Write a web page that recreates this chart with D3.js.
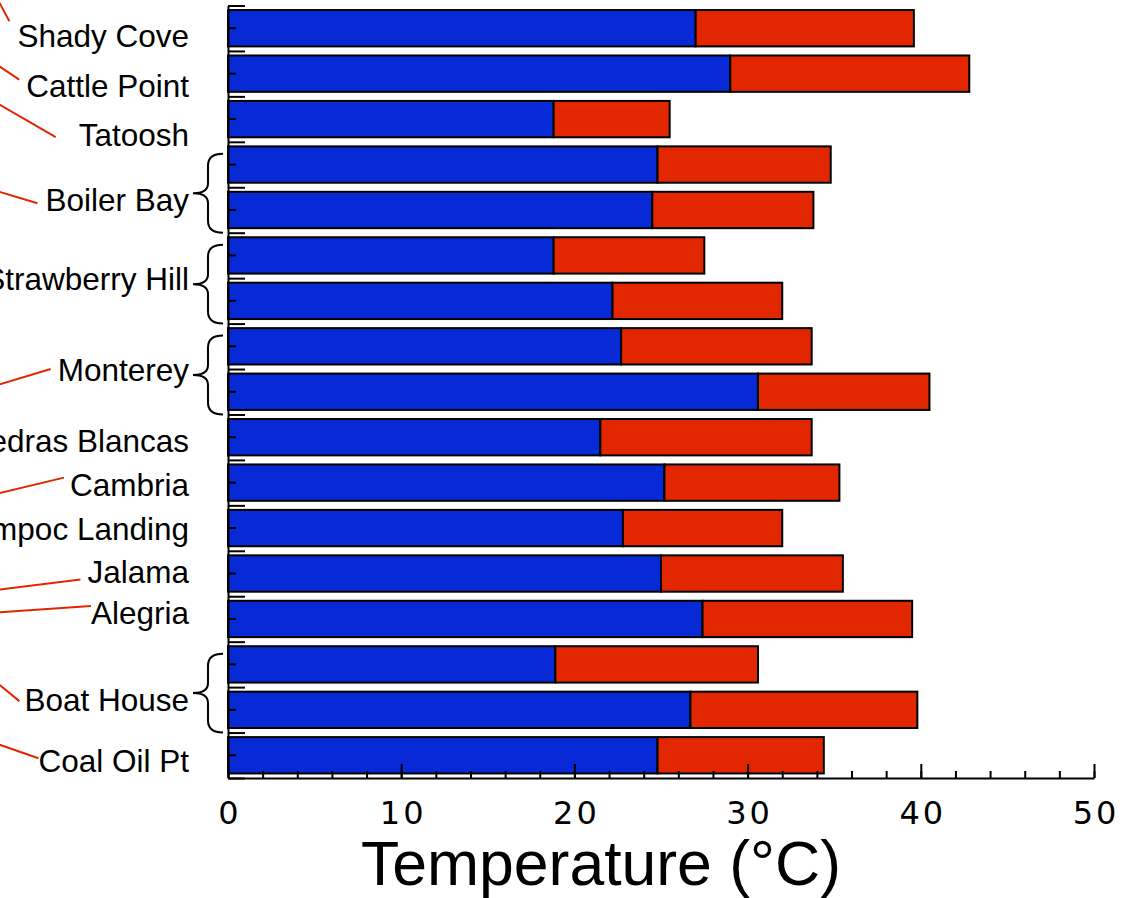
<!DOCTYPE html>
<html>
<head>
<meta charset="utf-8">
<script src="https://cdn.jsdelivr.net/npm/d3@7"></script>
<style>
  body { margin: 0; background: #fff; }
  svg { display: block; }
</style>
</head>
<body>
<div id="chart"></div>
<script>
// one row per bar, top to bottom; sites with two bars get a brace
var rowSites = ['Shady Cove', 'Cattle Point', 'Tatoosh', 'Boiler Bay', 'Boiler Bay',
  'Strawberry Hill', 'Strawberry Hill', 'Monterey', 'Monterey', 'Piedras Blancas',
  'Cambria', 'Lompoc Landing', 'Jalama', 'Alegria', 'Boat House', 'Boat House', 'Coal Oil Pt'];

// blue segment ends here (°C)
var blueTemps = [27.0, 29.0, 18.8, 24.8, 24.5, 18.8, 22.2, 22.7, 30.6, 21.5,
  25.2, 22.8, 25.0, 27.4, 18.9, 26.7, 24.8];

// red segment ends here (°C)
var redTemps = [39.6, 42.8, 25.5, 34.8, 33.8, 27.5, 32.0, 33.7, 40.5, 33.7,
  35.3, 32.0, 35.5, 39.5, 30.6, 39.8, 34.4];

var xTickValues = [0, 10, 20, 30, 40, 50];
var xTickLabels = ['0', '10', '20', '30', '40', '50'];
var xTitle = 'Temperature (°C)';

// label layout (per site, in order of first appearance): vertical nudge of the label,
// and red leader line [gap, end dy, slope] or null
var labelNudge = [8, 12, 16, 13, 1, 1, 4, 2, 1, -2, -6, 13, 6];
var leaderLayout = [
  [8, -15, 1.86], [7, -6, 0.67], [23, 2, 0.58], [8, 3, 0.3], null, [7, -1, -0.3],
  null, [6, -7, -0.24], null, [7, 8, -0.125], [0, -7, -0.07], [5, 1, 0.82], [0, -3, 0.35]
];

var width = 1131, height = 898;
var blue = '#0829d6', red = '#e22600';

var svg = d3.select('#chart').append('svg')
  .attr('width', width)
  .attr('height', height);

var x = d3.scaleLinear().domain([0, 50]).range([228, 1094]);
var rows = d3.range(rowSites.length);
var y = d3.scaleBand().domain(rows).range([5.5, 778]).padding(0);
var bw = y.bandwidth();
var yEdge = d3.scaleLinear().domain([0, rows.length]).range([5.5, 778]);

// bars
var bars = svg.append('g');
bars.selectAll('rect.low')
  .data(rows)
  .join('rect')
  .attr('class', 'low')
  .attr('x', x(0))
  .attr('y', function(i) { return y(i) + bw * 0.1; })
  .attr('width', function(i) { return x(blueTemps[i]) - x(0); })
  .attr('height', bw * 0.8)
  .attr('fill', blue)
  .attr('stroke', '#000')
  .attr('stroke-width', 2);

bars.selectAll('rect.high')
  .data(rows)
  .join('rect')
  .attr('class', 'high')
  .attr('x', function(i) { return x(blueTemps[i]); })
  .attr('y', function(i) { return y(i) + bw * 0.1; })
  .attr('width', function(i) { return x(redTemps[i]) - x(blueTemps[i]); })
  .attr('height', bw * 0.8)
  .attr('fill', red)
  .attr('stroke', '#000')
  .attr('stroke-width', 2);

// x axis: minor every 2, major every 10, ticks pointing inward
var xMinor = svg.append('g')
  .attr('transform', 'translate(0,778)')
  .call(d3.axisBottom(x).tickValues(d3.range(0, 51, 2)).tickSize(-7).tickSizeOuter(0).tickFormat(''));
xMinor.select('.domain').remove();

var xAxis = svg.append('g')
  .attr('transform', 'translate(0,778)')
  .call(d3.axisBottom(x).tickValues(xTickValues).tickSize(-14).tickSizeOuter(0)
    .tickPadding(23).tickFormat(function(d, i) { return xTickLabels[i]; }));

xAxis.selectAll('text')
  .attr('fill', '#000')
  .attr('dx', 1.5)
  .style('font-family', '"DejaVu Sans", sans-serif')
  .style('font-size', '32px')
  .style('letter-spacing', '3px');

// y axis: major ticks at row edges, minor at row centers
var yMinor = svg.append('g')
  .attr('transform', 'translate(228,0)')
  .call(d3.axisLeft(y).tickSize(-8).tickSizeOuter(0).tickFormat(''));
yMinor.select('.domain').remove();

svg.append('g')
  .attr('transform', 'translate(228,0)')
  .call(d3.axisLeft(yEdge).tickValues(d3.range(rows.length + 1)).tickSize(-17).tickSizeOuter(0).tickFormat(''));

svg.selectAll('.domain, .tick line')
  .attr('stroke', '#000')
  .attr('stroke-width', 2);

// x axis title
svg.append('text')
  .attr('x', 601)
  .attr('y', 885)
  .attr('text-anchor', 'middle')
  .style('font-family', '"Liberation Sans", Arial, sans-serif')
  .style('font-size', '62.5px')
  .attr('fill', '#000')
  .text(xTitle);

// site labels, braces and leader lines
var sites = [];
rowSites.forEach(function(s, i) {
  var site = sites.find(function(o) { return o.name === s; });
  if (!site) { site = { name: s, rows: [] }; sites.push(site); }
  site.rows.push(i);
});

var labelRight = 189;
var ann = svg.append('g');

sites.forEach(function(site, k) {
  var first = site.rows[0], last = site.rows[site.rows.length - 1];
  var cy = (y(first) + y(last) + bw) / 2 + labelNudge[k];

  var label = ann.append('text')
    .attr('x', labelRight)
    .attr('y', cy)
    .attr('dy', '0.35em')
    .attr('text-anchor', 'end')
    .style('font-family', '"Liberation Sans", Arial, sans-serif')
    .style('font-size', '31.5px')
    .attr('fill', '#000')
    .text(site.name);

  if (site.rows.length > 1) {
    var y0 = y(first) + 12, y1 = y(last) + bw;
    var ym = (y0 + y1) / 2;
    var xv = 208, xa = 223, xt = 193;
    var path = d3.path();
    path.moveTo(xa, y0);
    path.quadraticCurveTo(xv, y0, xv, y0 + 12);
    path.lineTo(xv, ym - 10);
    path.quadraticCurveTo(xv, ym, xt, ym);
    path.quadraticCurveTo(xv, ym, xv, ym + 10);
    path.lineTo(xv, y1 - 12);
    path.quadraticCurveTo(xv, y1, xa, y1);
    ann.append('path')
      .attr('d', path.toString())
      .attr('fill', 'none')
      .attr('stroke', '#000')
      .attr('stroke-width', 2);
  }

  var lead = leaderLayout[k];
  if (lead) {
    var textLeft = labelRight - label.node().getComputedTextLength();
    var ex = textLeft - lead[0], ey = cy + lead[1];
    var sx = -4, sy = ey - lead[2] * (ex - sx);
    ann.append('line')
      .attr('x1', sx).attr('y1', sy)
      .attr('x2', ex).attr('y2', ey)
      .attr('stroke', '#e22600')
      .attr('stroke-width', 2);
  }
});
</script>
</body>
</html>
